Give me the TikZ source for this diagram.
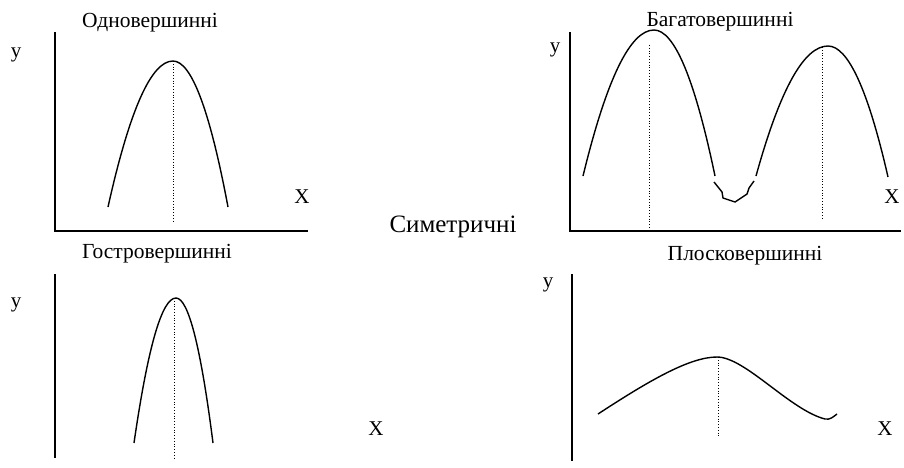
\documentclass[tikz,border=0pt]{standalone}
\usepackage{fontspec}
\setmainfont{Liberation Serif}
\usepackage{tikz}
\usetikzlibrary{positioning, calc}

\begin{document}
\begin{tikzpicture}[
        x=1pt, y=-1pt,
        axis/.style={line width=1.3pt, line cap=rect},
        curve/.style={line width=1.4pt},
        guide/.style={dotted, line width=0.8pt},
        title/.style={anchor=base, inner sep=0pt, font=\fontsize{21.5}{25}\selectfont},
        lbl/.style={anchor=base, inner sep=0pt, font=\fontsize{21}{25}\selectfont},
    ]
    \useasboundingbox (0,0) rectangle (904,467);

    % Centre label
    \node[anchor=base, inner sep=0pt, font=\fontsize{25}{30}\selectfont] (sym) at (453,232) {Симетричні};

    % Top left: single peak
    \coordinate (o1) at (55,231);
    \node[title] (t1) at (150,27) {Одновершинні};
    \node[lbl] (y1) at (16,57) {y};
    \node[lbl] (x1) at (302,203) {X};
    \draw[axis] (55,33) -- (o1) -- (307,231);
    \draw[curve] (108,207) .. controls (129.7,109.7) and (151.3,61) .. (173,61)
        .. controls (191.3,61) and (209.7,109.7) .. (228,207);
    \draw[guide] (173,61) -- (173,221);

    % Top right: several peaks
    \coordinate (o2) at (570,231);
    \node[title] (t2) at (720,26) {Багатовершинні};
    \node[lbl] (y2) at (555,52) {y};
    \node[lbl] (x2) at (892,203) {X};
    \draw[axis] (570,33) -- (o2) -- (900,231);
    \draw[curve] (583,176) .. controls (606.7,78.7) and (630.3,30) .. (654,30)
        .. controls (674.3,30) and (694.7,78.7) .. (715,176);
    \draw[curve] (714,182) -- (722,192) -- (723,198) -- (735,202) -- (747,194) -- (749,188) -- (754,181);
    \draw[curve] (756,176) .. controls (780,89.3) and (804,46) .. (828,46)
        .. controls (848,46) and (868,89.7) .. (888,177);
    \draw[guide] (649,45) -- (649,231);
    \draw[guide] (822,47) -- (822,220);

    % Bottom left: sharp peak
    \node[title] (t3) at (157,258) {Гостровершинні};
    \node[lbl] (y3) at (16,307) {y};
    \node[lbl] (x3) at (376,435) {X};
    \draw[axis] (55,275) -- (55,457);
    \draw[curve] (134,443) .. controls (148,346.3) and (162,298) .. (176,298)
        .. controls (188.3,298) and (200.7,346.3) .. (213,443);
    \draw[guide] (174,298) -- (174,460);

    % Bottom right: flat peak
    \node[title] (t4) at (745,260) {Плосковершинні};
    \node[lbl] (y4) at (548,287) {y};
    \node[lbl] (x4) at (885,435) {X};
    \draw[axis] (572,275) -- (572,460);
    \draw[curve] (598,414) .. controls (650,380) and (690,357) .. (717,357)
        .. controls (745,357) and (790,410) .. (825,419)
        .. controls (830,420) and (833,417) .. (837,414);
    \draw[guide] (718,357) -- (718,438);
\end{tikzpicture}
\end{document}
